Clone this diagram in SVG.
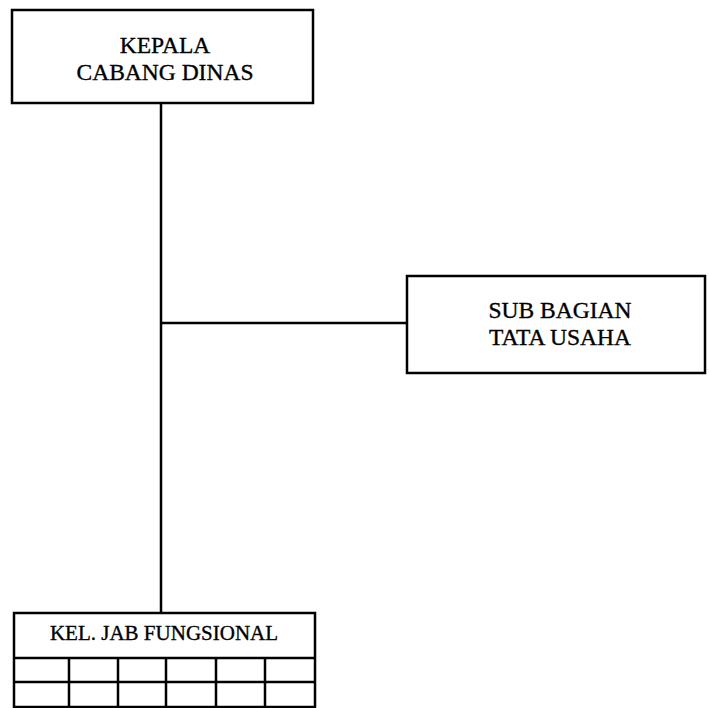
<svg xmlns="http://www.w3.org/2000/svg" width="709" height="708" viewBox="0 0 709 708">
<style>
.box{fill:#fff;stroke:#000;stroke-width:2.5}
.ln{stroke:#000;stroke-width:2.5;fill:none}
.t{font-family:"Liberation Serif","Times New Roman",serif;font-size:23.5px;fill:#000;stroke:#000;stroke-width:0.35;text-anchor:middle}
.s{font-family:"Liberation Serif","Times New Roman",serif;font-size:21px;fill:#000;stroke:#000;stroke-width:0.35;text-anchor:middle}
</style>
<rect width="709" height="708" fill="#fff"/>
<g id="connectors">
<line class="ln" x1="161" y1="103" x2="161" y2="613"/>
<line class="ln" x1="161" y1="323" x2="407" y2="323"/>
</g>
<g id="kepala">
<rect class="box" x="12" y="10" width="301" height="93"/>
<text class="t" x="165" y="53">KEPALA</text>
<text class="t" x="165" y="80">CABANG DINAS</text>
</g>
<g id="subbagian">
<rect class="box" x="407" y="276" width="298" height="97"/>
<text class="t" x="560" y="318">SUB BAGIAN</text>
<text class="t" x="560" y="345">TATA USAHA</text>
</g>
<g id="kel-jab">
<rect class="box" x="14" y="613" width="301" height="94"/>
<text class="s" x="164" y="640">KEL. JAB FUNGSIONAL</text>
<path class="ln" d="M14 658H315M14 682H315M69 658V707M118 658V707M166 658V707M216 658V707M265 658V707"/>
</g>
</svg>
